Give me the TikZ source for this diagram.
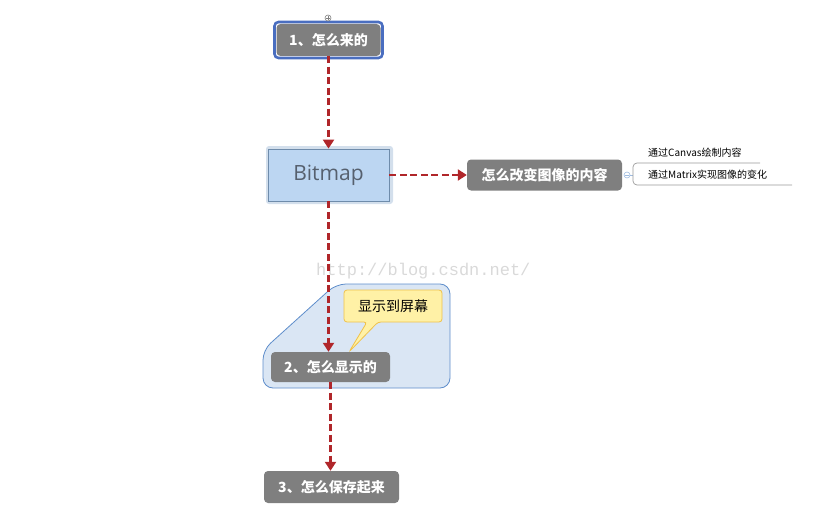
\documentclass[tikz,border=0pt]{standalone}
\usepackage{fontspec}
\setmainfont{Open Sans}
\newfontfamily\cjk{Noto Sans CJK SC}
\newfontfamily\wmfont{Liberation Mono}
\usetikzlibrary{arrows.meta}
\definecolor{topicgray}{HTML}{7F7F7F}
\definecolor{linkred}{HTML}{B0262A}
\definecolor{selblue}{HTML}{4A6EC0}
\definecolor{bmfill}{HTML}{BCD6F2}
\definecolor{bmhalo}{HTML}{D3DFEC}
\definecolor{bmedge}{HTML}{6F8CAB}
\definecolor{bmtext}{HTML}{56606E}
\definecolor{areafill}{HTML}{DAE6F4}
\definecolor{areaedge}{HTML}{5E8DCB}
\definecolor{notefill}{HTML}{FFF1A6}
\definecolor{noteedge}{HTML}{F0C24A}
\definecolor{subline}{HTML}{9A9A9A}
\begin{document}
\begin{tikzpicture}[x=1pt,y=-1pt,
    topic/.style={fill=topicgray, rounded corners=4pt, text=white,
      font=\cjk\bfseries\fontsize{14}{16}\selectfont, inner sep=0pt},
    link/.style={draw=linkred, line width=2.4pt, dash pattern=on 7pt off 3.5pt,
      -{Triangle[length=9pt,width=11pt]}},
    subtopic/.style={font=\cjk\fontsize{10}{12}\selectfont, anchor=west, inner sep=0pt}]
  \useasboundingbox (0,0) rectangle (832,524);
  % watermark
  \node[font=\wmfont\fontsize{17}{19}\selectfont, text=black!15, anchor=west, inner sep=0pt]
    (mark) at (316,271) {http://blog.csdn.net/};
  % root topic, selected
  \node[draw=selblue, line width=2.6pt, fill=white, rounded corners=4pt,
    minimum width=108pt, minimum height=36pt] (sel) at (328.5,40) {};
  \node[topic, minimum width=104pt, minimum height=32pt] (how1) at (328.5,40) {1、怎么来的};
  \node[circle, draw=gray, fill=white, line width=0.6pt, minimum size=6pt, inner sep=0pt] (plus) at (328,18) {};
  \draw[gray, line width=0.6pt] ([xshift=-2pt]plus.center) -- ([xshift=2pt]plus.center)
    ([yshift=-2pt]plus.center) -- ([yshift=2pt]plus.center);
  % central topic
  \node[fill=bmhalo, rounded corners=3pt, minimum width=127pt, minimum height=58pt] (halo) at (329.5,175) {};
  \node[fill=bmfill, draw=bmedge, line width=0.8pt, minimum width=121pt, minimum height=52pt,
    text=bmtext, font=\fontsize{21}{23}\selectfont] (bm) at (328.5,175) {Bitmap};
  % boundary with callout
  \path[fill=areafill, draw=areaedge, line width=0.8pt, rounded corners=10pt]
    (263,388) -- (263,350) -- (336,284) -- (450,284) -- (450,388) -- cycle;
  \path[fill=notefill, draw=noteedge, line width=0.8pt, rounded corners=3pt]
    (344,290) -- (442,290) -- (442,322) -- (378,322) -- (349,352) -- (367,322) -- (344,322) -- cycle;
  \node[font=\cjk\fontsize{14}{16}\selectfont] (note) at (393,306) {显示到屏幕};
  % other topics
  \node[topic, minimum width=155pt, minimum height=31pt] (change) at (544.5,175) {怎么改变图像的内容};
  \node[topic, minimum width=119pt, minimum height=30pt] (how2) at (330.5,367) {2、怎么显示的};
  \node[topic, minimum width=135pt, minimum height=32pt] (how3) at (331.5,487) {3、怎么保存起来};
  % links
  \draw[link] (how1.south -| bm.north) -- (bm.north);
  \draw[link] (bm.east) -- (change.west);
  \draw[link] (bm.south) -- (bm.south |- how2.north);
  \draw[link] (how2.south) -- (how2.south |- how3.north);
  % subtopics
  \node[circle, draw=areaedge!60, fill=white, line width=0.6pt, minimum size=6pt, inner sep=0pt] (minus) at (627,175) {};
  \draw[areaedge!60, line width=0.6pt] ([xshift=-2pt]minus.center) -- ([xshift=2pt]minus.center);
  \coordinate (fork) at (633,175);
  \draw[areaedge!60, line width=0.6pt] (minus.east) -- (fork);
  \draw[subline, line width=0.7pt, rounded corners=4pt]
    (760,163) -- (633,163) -- (633,185) -- (792,185);
  \node[subtopic] (canvas) at (648,153) {通过Canvas绘制内容};
  \node[subtopic] (matrix) at (648,175) {通过Matrix实现图像的变化};
\end{tikzpicture}
\end{document}
